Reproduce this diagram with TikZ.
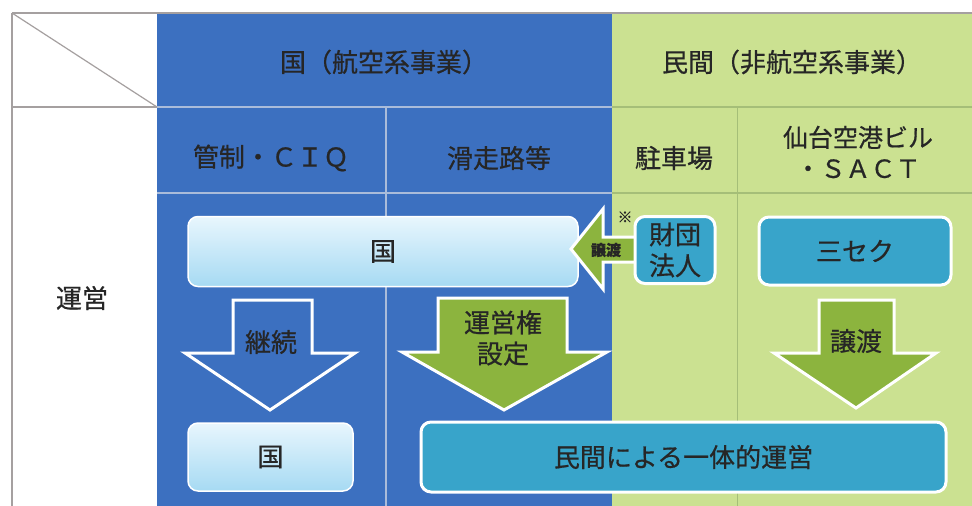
\documentclass[tikz,border=0pt]{standalone}
\usepackage{fontspec}
\setmainfont{Noto Sans CJK JP}[FakeBold=0.6]
\definecolor{bgblue}{RGB}{60,112,192}
\definecolor{bggreen}{RGB}{203,225,145}
\definecolor{teal}{RGB}{56,164,202}
\definecolor{agreen}{RGB}{140,180,62}
\definecolor{lbtop}{RGB}{232,246,253}
\definecolor{lbbot}{RGB}{166,218,243}
\definecolor{gridblue}{RGB}{170,188,218}
\definecolor{gridgreen}{RGB}{165,190,120}
\definecolor{border}{RGB}{165,160,160}
\tikzset{
  txt/.style={font=\fontsize{26}{31}\selectfont, text=black!85, inner sep=0pt, align=center},
  lbox/.style={rounded corners=10pt, draw=white, line width=1.5pt, top color=lbtop, bottom color=lbbot, txt},
  tbox/.style={rounded corners=10pt, draw=white, line width=3pt, fill=teal, txt},
  garrow/.style={fill=agreen, draw=white, line width=3pt, line join=miter},
  barrow/.style={fill=bgblue, draw=white, line width=3pt, line join=miter},
}
\begin{document}
\begin{tikzpicture}[x=1pt,y=-1pt]
\useasboundingbox (0,0) rectangle (972,506);
% backgrounds
\fill[white] (0,0) rectangle (972,506);
\fill[bgblue] (157,13) rectangle (612,506);
\fill[bggreen] (612,13) rectangle (972,506);
% grid lines
\draw[border, line width=1.2pt] (12,13) -- (972,13);
\draw[border, line width=1.2pt] (12,13) -- (12,506);
\draw[border, line width=1.2pt] (12,13) -- (157,107);
\draw[border, line width=1.2pt] (12,107) -- (157,107);
\draw[gridblue, line width=1.8pt] (157,107) -- (612,107);
\draw[gridblue, line width=1.8pt] (157,193) -- (612,193);
\draw[gridblue, line width=1.5pt] (386,107) -- (386,506);
\draw[gridgreen, line width=1.2pt] (612,107) -- (972,107);
\draw[gridgreen, line width=1.2pt] (612,193) -- (972,193);
\draw[gridgreen, line width=1pt] (737,107) -- (737,506);
% header texts
\node[txt] (h1) at (384,62) {国（航空系事業）};
\node[txt] (h2) at (792,62) {民間（非航空系事業）};
\node[txt] (c1) at (271,158) {管制・ＣＩＱ};
\node[txt] (c2) at (499,158) {滑走路等};
\node[txt] (c3) at (674,158) {駐車場};
\node[txt, font=\fontsize{25}{31}\selectfont] (c4) at (858,152) {仙台空港ビル\\・ＳＡＣＴ};
\node[txt] (r1) at (82,298) {運営};
% top boxes
\node[lbox, minimum width=390pt, minimum height=70pt] (kuni1) at (383,251.5) {国};
\path[garrow] (571,249) -- (603,209) -- (603,237) -- (642,237) -- (642,262) -- (603,262) -- (603,289) -- cycle;
\node[txt, font=\bfseries\fontsize{15}{16}\selectfont] (joto1) at (606,250) {譲渡};
\node[txt, font=\fontsize{15}{16}\selectfont] (kome) at (625,217) {※};
\node[tbox, minimum width=80pt, minimum height=67pt] (zaidan) at (675,250) {財団\\法人};
\node[tbox, minimum width=192pt, minimum height=68pt] (sanseku) at (855,251) {三セク};
% block arrows
\path[barrow] (233,300) -- (312,300) -- (312,353) -- (355,353) -- (270,410) -- (185,353) -- (233,353) -- cycle;
\node[txt] (keizoku) at (271,342) {継続};
\path[garrow] (438,298) -- (567,298) -- (567,352) -- (607,352) -- (504,410) -- (402,352) -- (438,352) -- cycle;
\node[txt] (unei) at (503,338) {運営権\\設定};
\path[garrow] (819,300) -- (894,300) -- (894,353) -- (936,353) -- (856,408) -- (774,353) -- (819,353) -- cycle;
\node[txt] (joto2) at (856,341) {譲渡};
% bottom boxes
\node[lbox, minimum width=165pt, minimum height=68pt] (kuni2) at (270.5,457) {国};
\node[tbox, minimum width=525pt, minimum height=70pt] (minkan) at (683.5,457) {民間による一体的運営};
\end{tikzpicture}
\end{document}
